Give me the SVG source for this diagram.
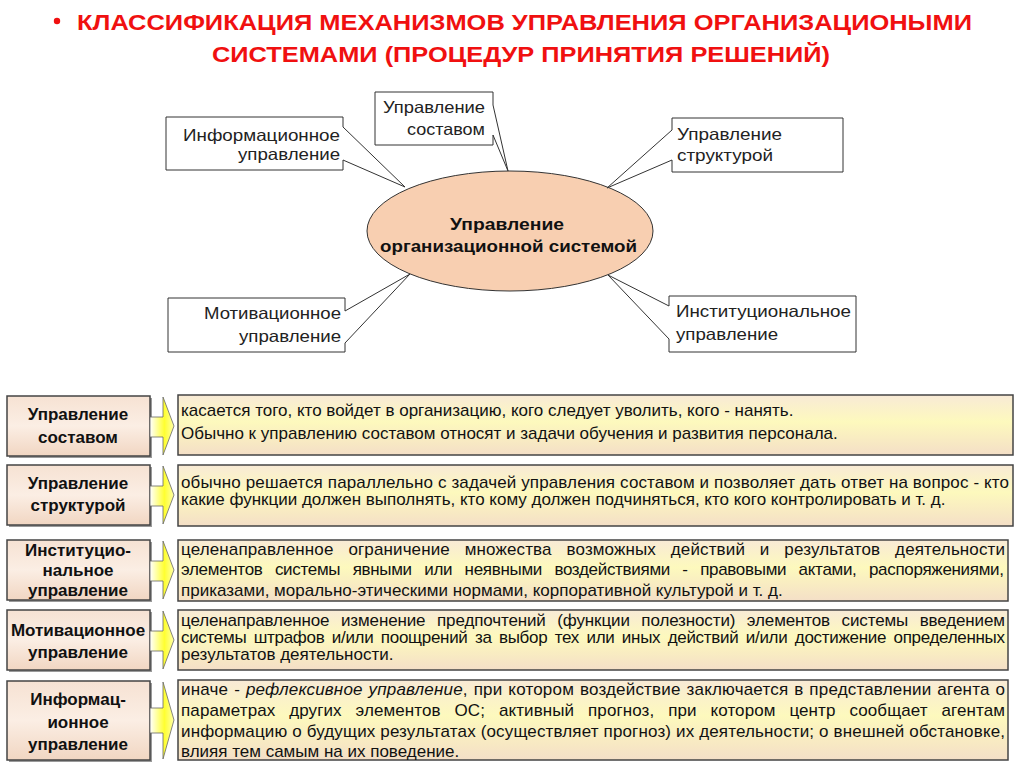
<svg xmlns="http://www.w3.org/2000/svg" width="1024" height="768" viewBox="0 0 1024 768">
<defs>
<style>
.title{font-family:"Liberation Sans",Arial,sans-serif;font-weight:bold;font-size:22.5px;fill:#f01010}
.co{font-family:"Liberation Sans",Arial,sans-serif;font-size:16.5px;fill:#222}
.cobox{fill:#fff;stroke:#333;stroke-width:1}
.ell{font-family:"Liberation Sans",Arial,sans-serif;font-weight:bold;font-size:16.5px;fill:#111}
.lbl{font-family:"Liberation Sans",Arial,sans-serif;font-weight:bold;font-size:17px;fill:#111;text-anchor:middle}
.txt{font-family:"Liberation Sans",Arial,sans-serif;font-size:17px;fill:#111}
.lbox{fill:url(#gl);stroke:#444;stroke-width:1.5}
.rbox{fill:url(#gr);stroke:#444;stroke-width:1.5}
.arr{fill:url(#ga);stroke:#666;stroke-width:0.8}
.shd{fill:#9a9a9a}
</style>
<linearGradient id="gl" x1="0" y1="0" x2="0" y2="1">
<stop offset="0" stop-color="#f6e2d3"/><stop offset="0.5" stop-color="#fbeee4"/><stop offset="1" stop-color="#f1d6c2"/>
</linearGradient>
<linearGradient id="gr" x1="0" y1="0" x2="0" y2="1">
<stop offset="0" stop-color="#f8ead6"/><stop offset="0.45" stop-color="#fdf9bd"/><stop offset="1" stop-color="#f4dfc7"/>
</linearGradient>
<linearGradient id="ga" x1="0" y1="0" x2="1" y2="0">
<stop offset="0" stop-color="#ffffff"/><stop offset="0.6" stop-color="#ffff30"/><stop offset="1" stop-color="#ffffa8"/>
</linearGradient>
</defs>
<rect width="1024" height="768" fill="#fff"/>

<g id="title">
<circle cx="57" cy="21" r="3.2" fill="#f01010"/>
<text class="title" x="77" y="30" textLength="895" lengthAdjust="spacingAndGlyphs">КЛАССИФИКАЦИЯ МЕХАНИЗМОВ УПРАВЛЕНИЯ ОРГАНИЗАЦИОНЫМИ</text>
<text class="title" x="212" y="62" textLength="618" lengthAdjust="spacingAndGlyphs">СИСТЕМАМИ (ПРОЦЕДУР ПРИНЯТИЯ РЕШЕНИЙ)</text>
</g>

<g id="center">
<ellipse cx="510" cy="231" rx="143" ry="60" fill="#f8cfb1" stroke="#333" stroke-width="1"/>
<text class="ell" x="450" y="230" textLength="114" lengthAdjust="spacingAndGlyphs">Управление</text>
<text class="ell" x="380" y="252" textLength="257" lengthAdjust="spacingAndGlyphs">организационной системой</text>
</g>

<g id="connectors">
<path class="cobox" d="M166,117 H343 V127 L405,187 L343,160 V170 H166 Z"/>
<path class="cobox" d="M375,92 H493 V105 L508,171 L493,135 V145 H375 Z"/>
<path class="cobox" d="M672,118 H843 V172 H672 V160 L607,188 L672,130 Z"/>
<path class="cobox" d="M168,298 H345 V311 L410,274 L345,343 V352 H168 Z"/>
<path class="cobox" d="M669,296 H856 V352 H669 V339 L608,275 L669,306 Z"/>
</g>

<g id="n-info">
<text class="co" x="183" y="141" textLength="157" lengthAdjust="spacingAndGlyphs">Информационное</text>
<text class="co" x="238" y="160" textLength="102" lengthAdjust="spacingAndGlyphs">управление</text>
</g>
<g id="n-sostav">
<text class="co" x="383" y="113" textLength="102" lengthAdjust="spacingAndGlyphs">Управление</text>
<text class="co" x="407" y="135" textLength="78" lengthAdjust="spacingAndGlyphs">составом</text>
</g>
<g id="n-struct">
<text class="co" x="677" y="140" textLength="105" lengthAdjust="spacingAndGlyphs">Управление</text>
<text class="co" x="677" y="161" textLength="96" lengthAdjust="spacingAndGlyphs">структурой</text>
</g>
<g id="n-motiv">
<text class="co" x="204" y="319" textLength="137" lengthAdjust="spacingAndGlyphs">Мотивационное</text>
<text class="co" x="239" y="342" textLength="102" lengthAdjust="spacingAndGlyphs">управление</text>
</g>
<g id="n-inst">
<text class="co" x="676" y="317" textLength="175" lengthAdjust="spacingAndGlyphs">Институциональное</text>
<text class="co" x="676" y="340" textLength="102" lengthAdjust="spacingAndGlyphs">управление</text>
</g>

<g id="row1">
<rect class="shd" x="9" y="398" width="143" height="60"/>
<rect class="lbox" x="7" y="396" width="143" height="60"/>
<text class="lbl" x="78" y="420">Управление</text>
<text class="lbl" x="78" y="443">составом</text>
<polygon class="arr" points="150,417 163,417 163,397 174,426 163,455 163,437 150,437"/>
<rect class="rbox" x="178" y="395" width="835" height="60"/>
<text class="txt" x="181" y="416">касается того, кто войдет в организацию, кого следует уволить, кого - нанять.</text>
<text class="txt" x="181" y="439">Обычно к управлению составом относят и задачи обучения и развития персонала.</text>
</g>

<g id="row2">
<rect class="shd" x="9" y="467" width="143" height="60"/>
<rect class="lbox" x="7" y="465" width="143" height="60"/>
<text class="lbl" x="78" y="489">Управление</text>
<text class="lbl" x="78" y="511">структурой</text>
<polygon class="arr" points="150,486 163,486 163,466 174,495 163,524 163,506 150,506"/>
<rect class="rbox" x="178" y="465" width="835" height="61"/>
<text class="txt" x="181" y="488" textLength="828" lengthAdjust="spacing">обычно решается параллельно с задачей управления составом и позволяет дать ответ на вопрос - кто</text>
<text class="txt" x="181" y="505">какие функции должен выполнять, кто кому должен подчиняться, кто кого контролировать и т. д.</text>
</g>

<g id="row3">
<rect class="shd" x="9" y="542" width="143" height="60"/>
<rect class="lbox" x="7" y="540" width="143" height="60"/>
<text class="lbl" x="78" y="556">Институцио-</text>
<text class="lbl" x="78" y="576">нальное</text>
<text class="lbl" x="78" y="596">управление</text>
<polygon class="arr" points="150,561 163,561 163,541 174,570 163,599 163,581 150,581"/>
<rect class="rbox" x="178" y="540" width="830" height="61"/>
<text class="txt" x="181" y="555" word-spacing="10" textLength="824" lengthAdjust="spacing">целенаправленное ограничение множества возможных действий и результатов деятельности</text>
<text class="txt" x="181" y="575" word-spacing="8" textLength="823" lengthAdjust="spacing">элементов системы явными или неявными воздействиями - правовыми актами, распоряжениями,</text>
<text class="txt" x="181" y="596">приказами, морально-этическими нормами, корпоративной культурой и т. д.</text>
</g>

<g id="row4">
<rect class="shd" x="9" y="612" width="143" height="60"/>
<rect class="lbox" x="7" y="610" width="143" height="60"/>
<text class="lbl" x="78" y="636">Мотивационное</text>
<text class="lbl" x="78" y="658">управление</text>
<polygon class="arr" points="150,631 163,631 163,611 174,640 163,669 163,651 150,651"/>
<rect class="rbox" x="178" y="610" width="830" height="60"/>
<text class="txt" x="181" y="626" word-spacing="7" textLength="824" lengthAdjust="spacing">целенаправленное изменение предпочтений (функции полезности) элементов системы введением</text>
<text class="txt" x="181" y="643" word-spacing="3" textLength="824" lengthAdjust="spacing">системы штрафов и/или поощрений за выбор тех или иных действий и/или достижение определенных</text>
<text class="txt" x="181" y="660">результатов деятельности.</text>
</g>

<g id="row5">
<rect class="shd" x="9" y="683" width="143" height="79"/>
<rect class="lbox" x="7" y="681" width="143" height="79"/>
<text class="lbl" x="78" y="705">Информац-</text>
<text class="lbl" x="78" y="728">ионное</text>
<text class="lbl" x="78" y="750">управление</text>
<polygon class="arr" points="150,708 163,708 163,682 174,720 163,759 163,733 150,733"/>
<rect class="rbox" x="178" y="680" width="830" height="80"/>
<text class="txt" x="181" y="695" word-spacing="1" textLength="824" lengthAdjust="spacing">иначе - <tspan font-style="italic">рефлексивное управление</tspan>, при котором воздействие заключается в представлении агента о</text>
<text class="txt" x="181" y="716" word-spacing="9" textLength="824" lengthAdjust="spacing">параметрах других элементов ОС; активный прогноз, при котором центр сообщает агентам</text>
<text class="txt" x="181" y="737" textLength="824" lengthAdjust="spacing">информацию о будущих результатах (осуществляет прогноз) их деятельности;  о внешней обстановке,</text>
<text class="txt" x="181" y="757">влияя тем самым на их поведение.</text>
</g>
</svg>
